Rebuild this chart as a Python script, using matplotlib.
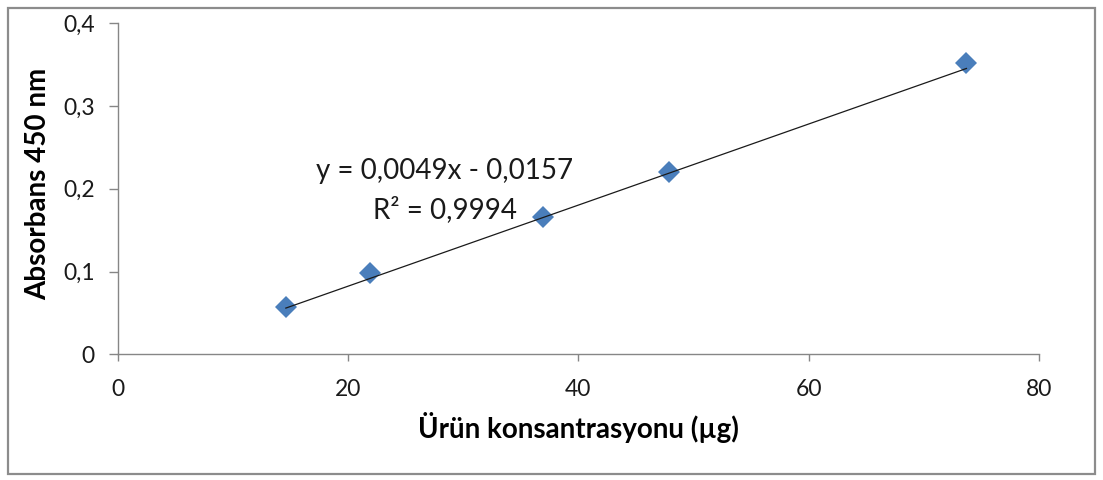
import matplotlib
matplotlib.use("Agg")
import matplotlib.pyplot as plt
from matplotlib.patches import Rectangle

# Measured calibration points
concentration = [14.6, 21.9, 36.9, 47.9, 73.7]
absorbance = [0.0575, 0.098, 0.1655, 0.220, 0.3517]

# Linear trendline coefficients (as reported)
slope = 0.0049
intercept = -0.0157
r_squared = "0,9994"

x_ticks = [0, 20, 40, 60, 80]
x_tick_labels = ["0", "20", "40", "60", "80"]
y_ticks = [0, 0.1, 0.2, 0.3, 0.4]
y_tick_labels = ["0", "0,1", "0,2", "0,3", "0,4"]

x_label = "Ürün konsantrasyonu (µg)"
y_label = "Absorbans 450 nm"

plt.rcParams["font.family"] = ["Lato", "DejaVu Sans"]

fig = plt.figure(figsize=(11.03, 4.80), dpi=100)
ax = fig.add_axes([117.7 / 1103, (480 - 354.3) / 480, 921.3 / 1103, 331 / 480])

# Chart frame
fig.patches.append(Rectangle((8 / 1103, 6 / 480), 1087 / 1103, 466 / 480,
                             transform=fig.transFigure, fill=False,
                             edgecolor="#8c8c8c", linewidth=1.6))

# Trendline across the data range
x0, x1 = min(concentration), max(concentration)
ax.plot([x0, x1], [slope * x0 + intercept, slope * x1 + intercept],
        color="#1a1a1a", linewidth=0.9, zorder=3)

ax.plot(concentration, absorbance, linestyle="none", marker="D",
        markersize=11, color="#4a7ebb", markeredgewidth=0, zorder=2)

ax.set_xlim(0, 80)
ax.set_ylim(0, 0.4)
ax.set_xticks(x_ticks, x_tick_labels)
ax.set_yticks(y_ticks, y_tick_labels)

for side in ("top", "right"):
    ax.spines[side].set_visible(False)
for side in ("left", "bottom"):
    ax.spines[side].set_color("#868686")
    ax.spines[side].set_linewidth(1.0)

ax.tick_params(axis="x", length=5, width=1, color="#868686", pad=13,
               labelsize=16.5, labelcolor="#1a1a1a")
ax.tick_params(axis="y", length=6.5, width=1, color="#868686", pad=10,
               labelsize=16.5, labelcolor="#1a1a1a")

ax.set_xlabel(x_label, fontsize=20, fontweight="bold", va="baseline")
ax.xaxis.set_label_coords(0.5, -0.2538)
ax.set_ylabel(y_label, fontsize=20, fontweight="bold", va="baseline")
ax.yaxis.set_label_coords(-0.0778, 0.515)

sign = "-" if intercept < 0 else "+"
eq_text = f"y = {slope:.4f}x {sign} {abs(intercept):.4f}".replace(".", ",")
ax.text(28.4, 0.2115, eq_text, ha="center", va="baseline",
        fontsize=20, color="#1a1a1a")
ax.text(28.4, 0.1643, f"R² = {r_squared}", ha="center",
        va="baseline", fontsize=20, color="#1a1a1a")

fig.savefig("out.png", dpi=100)
